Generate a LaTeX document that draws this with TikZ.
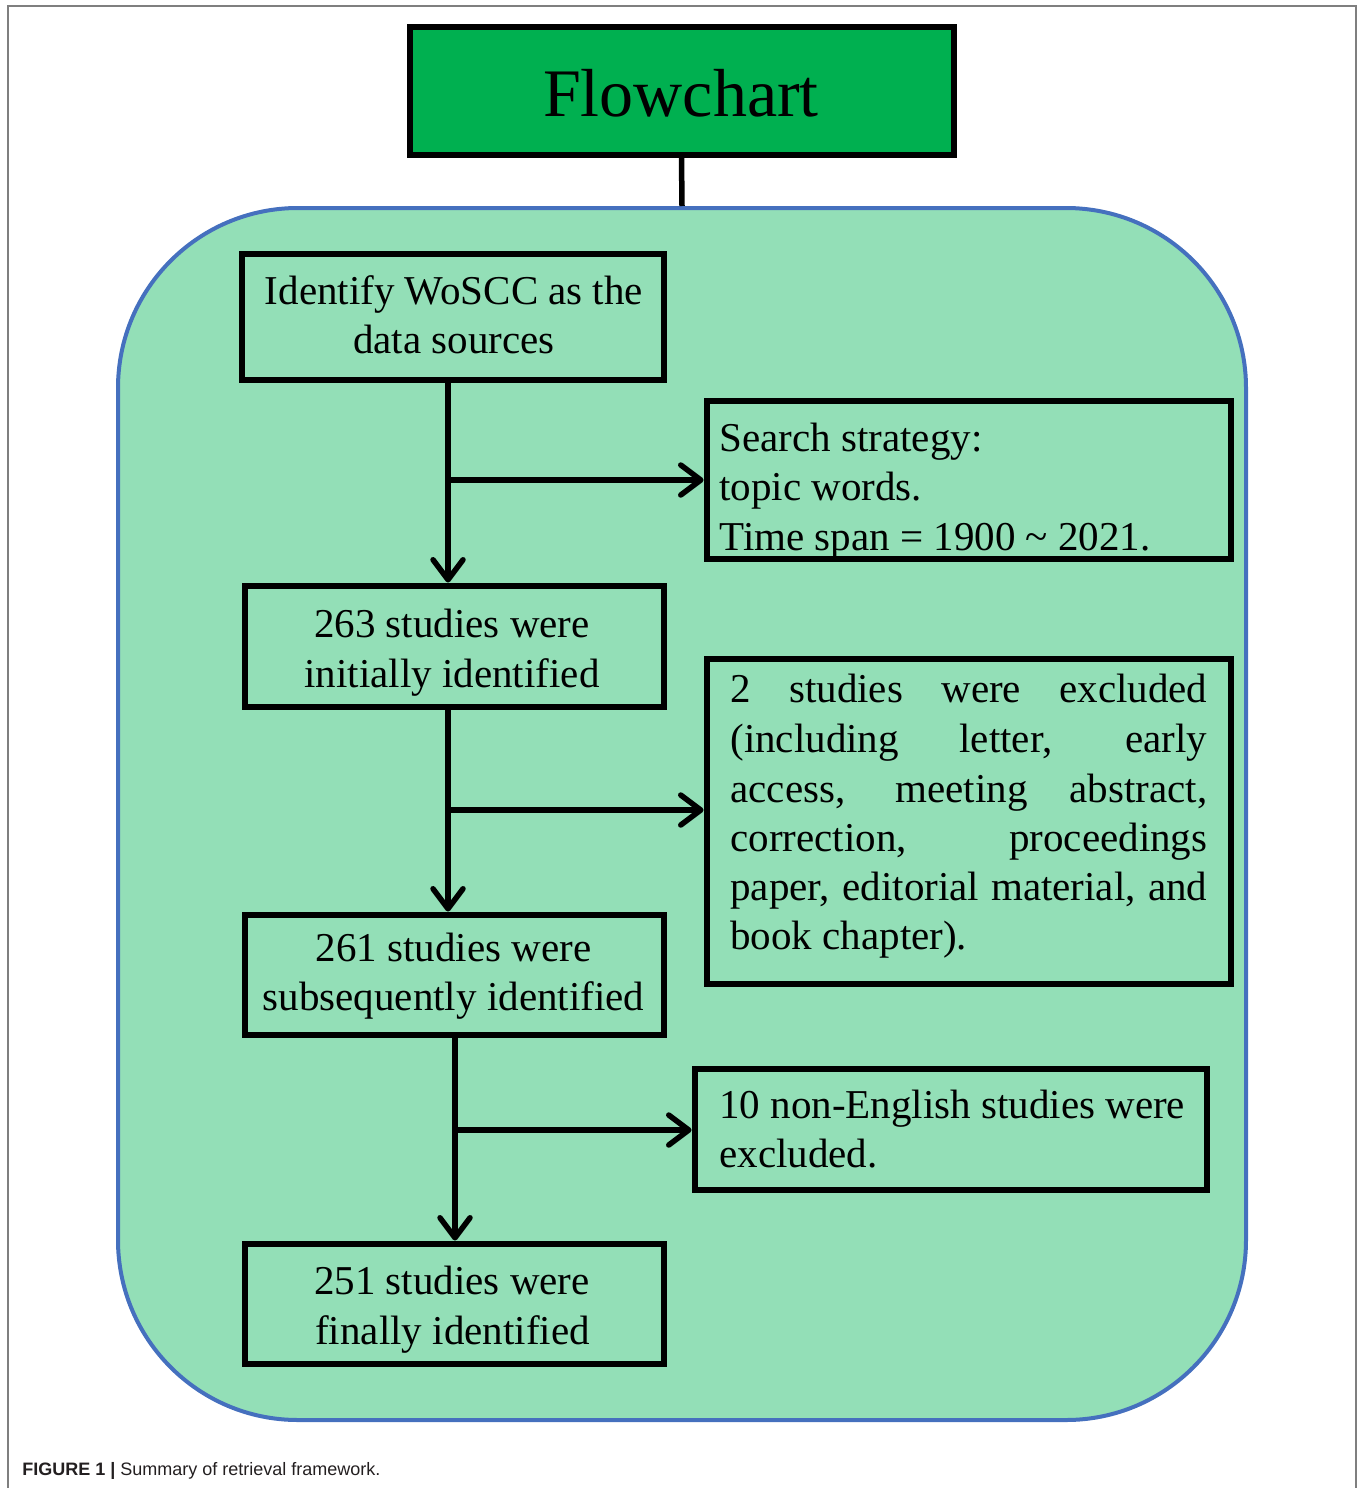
\documentclass[tikz,border=0pt]{standalone}
\usepackage{fontspec}
\setmainfont{Liberation Serif}
\newfontfamily\capfont{Liberation Sans}
\usetikzlibrary{arrows.meta}
\definecolor{panelfill}{HTML}{93DFB7}
\definecolor{panelline}{HTML}{4570BE}
\definecolor{flowgreen}{HTML}{00B050}
\definecolor{framegray}{HTML}{7F7F7F}
\definecolor{captext}{HTML}{231F20}
\begin{document}
\begin{tikzpicture}[x=0.5pt,y=-0.5pt,
  box/.style={draw=black, line width=3pt, rectangle, inner sep=0pt},
  txt/.style={font=\fontsize{20.5}{25}\selectfont, inner sep=0pt, anchor=base},
  ltxt/.style={txt, anchor=base west},
  arr/.style={line width=2.75pt, -{Straight Barb[length=10pt,width=15pt,round]}},
  link/.style={line width=2.75pt}]
\useasboundingbox (0,0) rectangle (1360,1488);
\draw[framegray, line width=1pt] (8,1488) -- (8,6) -- (1356,6) -- (1356,1488);

% container
\node[draw=panelline, fill=panelfill, line width=2pt, rounded corners=90pt,
      minimum width=564pt, minimum height=606pt, inner sep=0pt] (panel) at (682,814) {};

% title
\node[box, fill=flowgreen, minimum width=272pt, minimum height=64pt] (flow) at (681.5,90.5) {};
\node[txt, font=\fontsize{34}{40}\selectfont] (flowt) at (681,116) {Flowchart};
\draw[link] (flow.south) -- (panel.north);

% boxes
\node[box, minimum width=211pt, minimum height=63pt] (b1) at (452.5,316.5) {};
\node[box, minimum width=262pt, minimum height=79pt] (search) at (968.5,479.5) {};
\node[box, minimum width=209.5pt, minimum height=60.5pt] (b263) at (454,646) {};
\node[box, minimum width=262pt, minimum height=162.5pt] (excl) at (968.5,821) {};
\node[box, minimum width=209.5pt, minimum height=60pt] (b261) at (454,974.5) {};
\node[box, minimum width=256pt, minimum height=60.5pt] (noneng) at (950.5,1129) {};
\node[box, minimum width=209.5pt, minimum height=60pt] (b251) at (454,1303.5) {};

% texts
\node[txt] (t1a) at (454,304) {Identify WoSCC as the};
\node[txt] (t1b) at (454,353) {data sources};

\node[ltxt] (tsa) at (719,451) {Search strategy:};
\node[ltxt] (tsb) at (719,500) {topic words.};
\node[ltxt] (tsc) at (719,550) {Time span = 1900 \char"007E\ 2021.};

\node[txt] (t2a) at (452,637) {263 studies were};
\node[txt] (t2b) at (452,687) {initially identified};

\node[ltxt] (tea) at (730,702) {\makebox[238.5pt][s]{2 studies were excluded}};
\node[ltxt] (teb) at (730,752) {\makebox[238.5pt][s]{(including letter, early}};
\node[ltxt] (tec) at (730,802) {\makebox[238.5pt][s]{access, meeting abstract,}};
\node[ltxt] (ted) at (730,851) {\makebox[238.5pt][s]{correction, proceedings}};
\node[ltxt] (tee) at (730,900) {\makebox[238.5pt][s]{paper, editorial material, and}};
\node[ltxt] (tef) at (730,949) {book chapter).};

\node[txt] (t3a) at (453.5,961) {261 studies were};
\node[txt] (t3b) at (453.5,1010) {subsequently identified};

\node[ltxt] (tna) at (719,1118) {10 non-English studies were};
\node[ltxt] (tnb) at (719,1167) {excluded.};

\node[txt] (t4a) at (452,1294) {251 studies were};
\node[txt] (t4b) at (452.5,1344) {finally identified};

% connectors
\coordinate (j1) at (448,480);
\coordinate (j2) at (448,810);
\coordinate (j3) at (455,1130);
\draw[arr] (j1 |- b1.south) -- (j1 |- b263.north);
\draw[arr] (j1) -- (j1 -| search.west);
\draw[arr] (j2 |- b263.south) -- (j2 |- b261.north);
\draw[arr] (j2) -- (j2 -| excl.west);
\draw[arr] (j3 |- b261.south) -- (j3 |- b251.north);
\draw[arr] (j3) -- (j3 -| noneng.west);

% caption
\node[anchor=base west, inner sep=0pt, text=captext,
      font=\capfont\fontsize{9}{11}\selectfont] (cap) at (22,1475)
      {\textbf{FIGURE 1 |} Summary of retrieval framework.};
\end{tikzpicture}
\end{document}
